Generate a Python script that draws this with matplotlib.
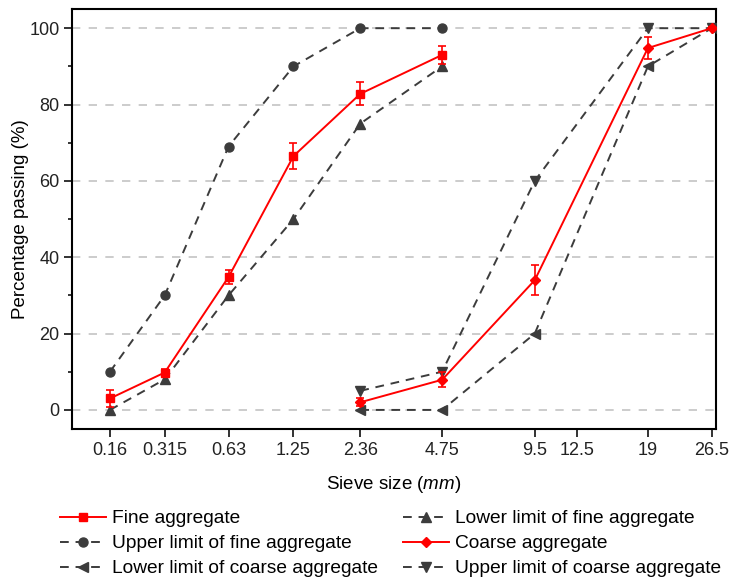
import numpy as np
import matplotlib
matplotlib.use("Agg")
from matplotlib import pyplot as plt
from matplotlib.ticker import MultipleLocator

plt.rcParams['font.family'] = ['Liberation Sans', 'DejaVu Sans']
plt.rcParams['mathtext.fontset'] = 'custom'
plt.rcParams['mathtext.it'] = 'Liberation Sans:italic'
plt.rcParams['mathtext.rm'] = 'Liberation Sans'

# sieve sizes (mm) and the axis tick sizes
sieve_ticks = [0.16, 0.315, 0.63, 1.25, 2.36, 4.75, 9.5, 12.5, 19, 26.5]
tick_labels = ['0.16', '0.315', '0.63', '1.25', '2.36', '4.75', '9.5', '12.5', '19', '26.5']
# where each tick sits along the (non uniform) axis, 0..1
tick_pos = [0, 0.091, 0.197, 0.305, 0.416, 0.552, 0.706, 0.776, 0.894, 1.0]

fine_sizes = [0.16, 0.315, 0.63, 1.25, 2.36, 4.75]
fine_pass = [3, 9.8, 34.8, 66.5, 82.8, 93]
fine_err = [2.2, 0.8, 1.9, 3.5, 3.0, 2.3]
fine_upper = [10, 30, 69, 90, 100, 100]
fine_lower = [0, 8, 30, 50, 75, 90]

coarse_sizes = [2.36, 4.75, 9.5, 19, 26.5]
coarse_pass = [2, 7.9, 34, 94.8, 100]
coarse_err = [1.1, 2.0, 4.0, 3.0, 0.3]
coarse_lower = [0, 0, 20, 90, 100]
coarse_upper = [5, 10, 60, 100, 100]

lt = np.log(sieve_ticks)
tp = np.array(tick_pos)
s0 = (tp[1] - tp[0]) / (lt[1] - lt[0])
s1 = (tp[-1] - tp[-2]) / (lt[-1] - lt[-2])


def fwd(x):
    lx = np.log(np.clip(np.asarray(x, dtype=float), 1e-6, None))
    y = np.interp(lx, lt, tp)
    y = np.where(lx < lt[0], tp[0] + (lx - lt[0]) * s0, y)
    y = np.where(lx > lt[-1], tp[-1] + (lx - lt[-1]) * s1, y)
    return y


def inv(y):
    y = np.asarray(y, dtype=float)
    lx = np.interp(y, tp, lt)
    lx = np.where(y < tp[0], lt[0] + (y - tp[0]) / s0, lx)
    lx = np.where(y > tp[-1], lt[-1] + (y - tp[-1]) / s1, lx)
    return np.exp(lx)


red = '#ff0000'
grey = '#3c3c3c'
dash = (0, (4.5, 3.5))

fig = plt.figure(figsize=(7.36, 5.84), dpi=100)
ax = fig.add_axes([0.0978, 0.2654, 0.875, 0.719])
ax.set_xscale('function', functions=(fwd, inv))

ax.yaxis.grid(True, color='#c4c4c4', linestyle=(0, (5, 5)), linewidth=1.2)
ax.set_axisbelow(True)

h_fine = ax.errorbar(fine_sizes, fine_pass, yerr=fine_err, color=red, marker='s', ms=5.2,
                     lw=1.4, capsize=3, elinewidth=1.2, capthick=1.2, zorder=5)
h_fup, = ax.plot(fine_sizes, fine_upper, color=grey, linestyle=dash, lw=1.4,
                 marker='o', ms=6.5, zorder=3)
h_flo, = ax.plot(fine_sizes, fine_lower, color=grey, linestyle=dash, lw=1.4,
                 marker='^', ms=6.5, zorder=3)
h_coarse = ax.errorbar(coarse_sizes, coarse_pass, yerr=coarse_err, color=red, marker='D', ms=5.2,
                       lw=1.4, capsize=3, elinewidth=1.2, capthick=1.2, zorder=5)
h_clo, = ax.plot(coarse_sizes, coarse_lower, color=grey, linestyle=dash, lw=1.4,
                 marker='<', ms=6.5, zorder=3)
h_cup, = ax.plot(coarse_sizes, coarse_upper, color=grey, linestyle=dash, lw=1.4,
                 marker='v', ms=6.5, zorder=3)

ax.set_xlim(0.10, 27.1)
ax.set_ylim(-5, 105)
ax.set_xticks(sieve_ticks)
ax.set_xticklabels(tick_labels)
ax.xaxis.set_minor_locator(plt.NullLocator())
ax.yaxis.set_major_locator(MultipleLocator(20))
ax.yaxis.set_minor_locator(MultipleLocator(10))
ax.tick_params(axis='both', which='major', direction='out', length=5.5, width=1.3,
               labelsize=13, colors='#222222')
ax.tick_params(axis='y', which='minor', direction='out', length=3, width=1.1)
for sp in ax.spines.values():
    sp.set_linewidth(1.5)

ax.set_xlabel('Sieve size ($\\it{mm}$)', fontsize=13.5, labelpad=11)
ax.set_ylabel('Percentage passing (%)', fontsize=13.5, labelpad=0)

# legend shows only line + marker for the measured curves
handles = [h_fine[0], h_fup, h_clo, h_flo, h_coarse[0], h_cup]
labels = ['Fine aggregate', 'Upper limit of fine aggregate', 'Lower limit of coarse aggregate',
          'Lower limit of fine aggregate', 'Coarse aggregate', 'Upper limit of coarse aggregate']
fig.legend(handles, labels, ncol=2, loc='upper left', bbox_to_anchor=(0.082, 0.127),
           frameon=False, fontsize=13.8, handlelength=2.4, handletextpad=0.3,
           labelspacing=0.4, columnspacing=1.3, borderpad=0, borderaxespad=0)

fig.savefig('out.png', dpi=100)
